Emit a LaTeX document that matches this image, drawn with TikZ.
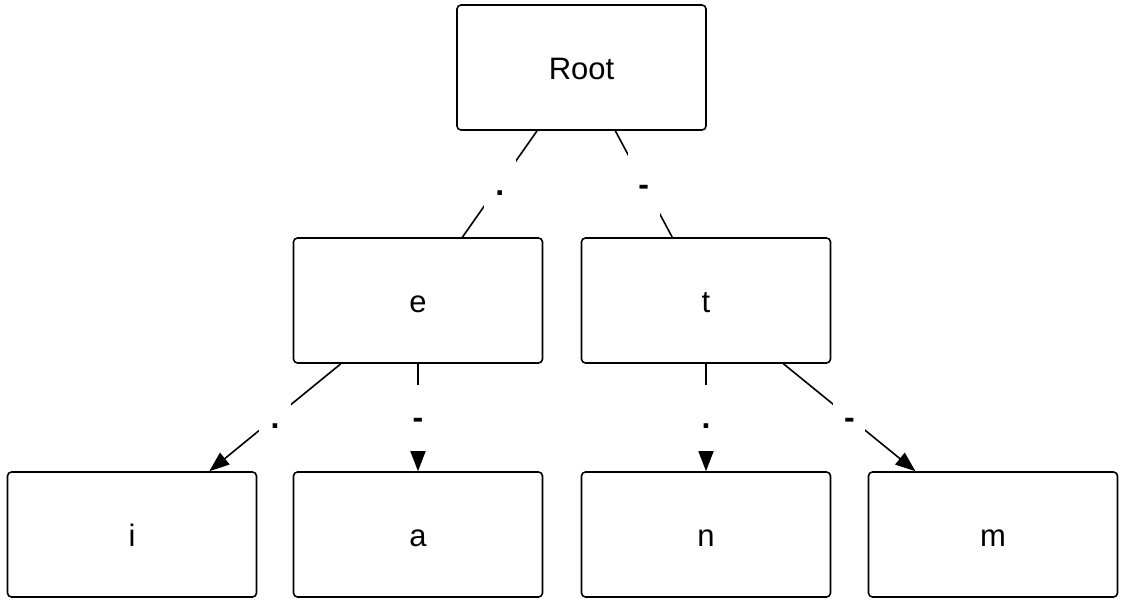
\documentclass[tikz,border=0pt]{standalone}
\usepackage{fontspec}
\setmainfont{Liberation Sans}
\usetikzlibrary{arrows.meta}
\begin{document}
\begin{tikzpicture}[x=1pt,y=-1pt,
  treebox/.style={draw, line width=1.6pt, rounded corners=4pt, minimum width=249pt,
    minimum height=125pt, inner sep=0pt, text height=23pt, text depth=0pt,
    font=\fontsize{31}{36}\selectfont},
  link/.style={line width=1.6pt},
  arrowlink/.style={link, -{Triangle[length=20pt,width=15pt]}},
  code/.style={fill=white, inner sep=0pt, minimum width=32pt, minimum height=66pt,
    text height=26pt, text depth=4pt, font=\fontsize{32}{36}\selectfont\bfseries}]
  \useasboundingbox (0,0) rectangle (1122,602);

  % tree nodes
  \node[treebox] (root) at (581.5,67.5) {Root};
  \node[treebox] (e) at (418,300.5) {e};
  \node[treebox] (t) at (706,300.5) {t};
  \node[treebox] (i) at (132,534.5) {i};
  \node[treebox] (a) at (418,534.5) {a};
  \node[treebox] (n) at (706,534.5) {n};
  \node[treebox] (m) at (993,534.5) {m};

  % first level: dot goes left, dash goes right
  \draw[link] (root) -- node[code] {.} (e);
  \draw[link] (root) -- node[code] {-} (t);

  % second level
  \draw[arrowlink] (e) -- node[code] {.} (i);
  \draw[arrowlink] (e) -- node[code] {-} (a);
  \draw[arrowlink] (t) -- node[code] {.} (n);
  \draw[arrowlink] (t) -- node[code] {-} (m);
\end{tikzpicture}
\end{document}
